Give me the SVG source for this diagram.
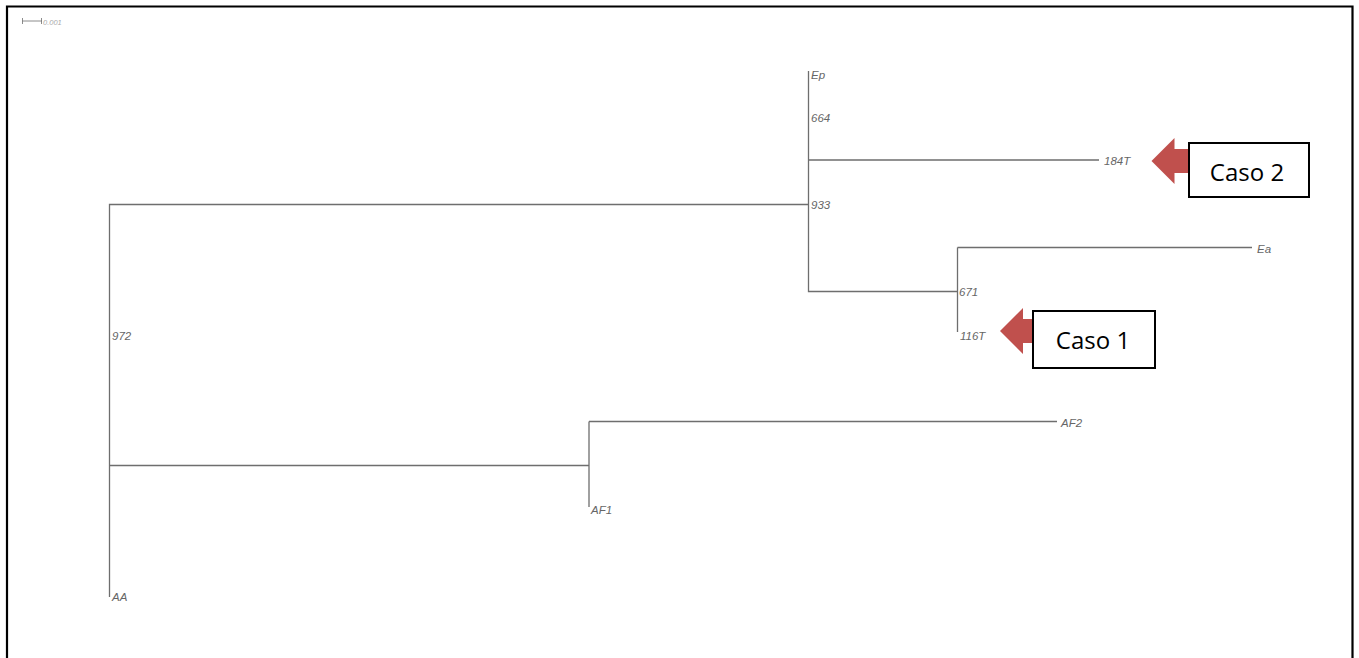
<svg xmlns="http://www.w3.org/2000/svg" width="1359" height="658" viewBox="0 0 1359 658">
<style>
.b{fill:none;stroke:#6e6e6e;stroke-width:1.3}
.l{font-family:"Liberation Sans",Arial,sans-serif;font-style:italic;font-size:11.500px;fill:#666}
.box{fill:#fff;stroke:#000;stroke-width:2}
.cap{font-family:"Open Sans","Liberation Sans",sans-serif;font-size:24px;fill:#000;text-anchor:middle}
.arrow{fill:#c0504d}
</style>
<rect x="0" y="0" width="1359" height="658" fill="#fff"/>
<path d="M7 658V6.500H1352.500V658" fill="none" stroke="#000" stroke-width="2.200"/>
<g id="connectors">
<path class="b" d="M22.500 18V24M22.500 21H42M41.500 18V24" style="stroke-width:0.8"/>
<path class="b" d="M808.500 71V291.500H957M957.500 247.500V332M957.500 247.500H1252M808.500 160H1099M808.500 204.500H109.500V597M109 465.500H588.500M589 421.500V507M589 421.500H1057"/>
</g>
<g id="scale"><text x="43" y="25" class="l" style="font-size:7.500px;fill:#aaa">0.001</text></g>
<g id="n-Ep"><text x="811" y="79" class="l">Ep</text></g>
<g id="n-664"><text x="811" y="122" class="l">664</text></g>
<g id="n-933"><text x="811" y="209" class="l">933</text></g>
<g id="n-184T"><text x="1104" y="165" class="l">184T</text></g>
<g id="n-Ea"><text x="1257" y="253" class="l">Ea</text></g>
<g id="n-671"><text x="959" y="296" class="l">671</text></g>
<g id="n-116T"><text x="960" y="340" class="l">116T</text></g>
<g id="n-972"><text x="112" y="340" class="l">972</text></g>
<g id="n-AF2"><text x="1061" y="427" class="l">AF2</text></g>
<g id="n-AF1"><text x="591" y="514" class="l">AF1</text></g>
<g id="n-AA"><text x="112" y="601" class="l">AA</text></g>
<g id="caso2">
<path class="arrow" d="M1151.500 161L1174.500 138V149H1190V173H1174.500V184Z"/>
<rect class="box" x="1189" y="143" width="120" height="54"/>
<text class="cap" x="1247" y="181">Caso 2</text>
</g>
<g id="caso1">
<path class="arrow" d="M1000 331L1023 308V319H1034V343H1023V354Z"/>
<rect class="box" x="1033" y="311" width="122" height="57"/>
<text class="cap" x="1093" y="349">Caso 1</text>
</g>
</svg>
